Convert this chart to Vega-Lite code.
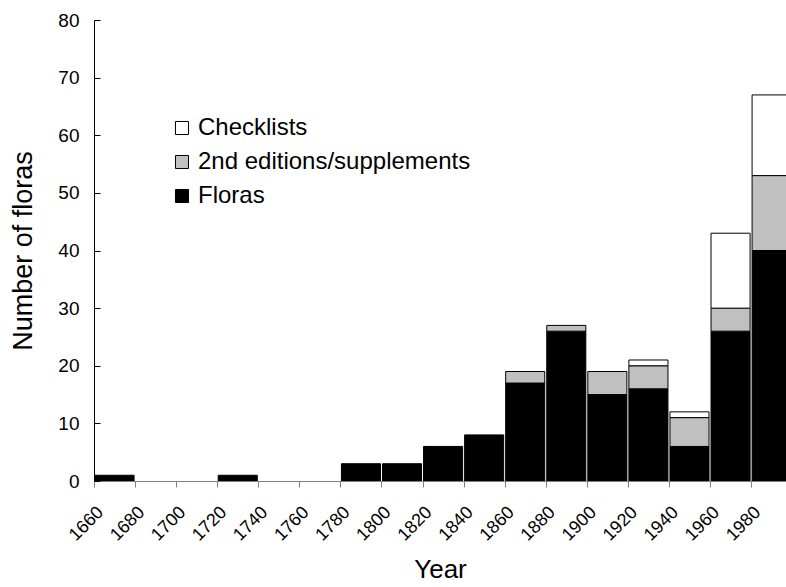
{
  "$schema": "https://vega.github.io/schema/vega-lite/v6.json",
  "width": 692,
  "height": 461,
  "autosize": {"type": "none"},
  "padding": {"left": 94, "top": 20, "right": 0, "bottom": 106},
  "background": "white",
  "config": {
    "view": {"stroke": null},
    "font": "Liberation Sans",
    "axis": {"grid": false, "labelFont": "Liberation Sans", "titleFont": "Liberation Sans", "labelColor": "black", "titleColor": "black", "titleFontWeight": "normal"}
  },
  "data": {
    "values": [
      {"start": 1660, "end": 1680, "type": "Floras", "count": 1, "ord": 1},
      {"start": 1720, "end": 1740, "type": "Floras", "count": 1, "ord": 1},
      {"start": 1780, "end": 1800, "type": "Floras", "count": 3, "ord": 1},
      {"start": 1800, "end": 1820, "type": "Floras", "count": 3, "ord": 1},
      {"start": 1820, "end": 1840, "type": "Floras", "count": 6, "ord": 1},
      {"start": 1840, "end": 1860, "type": "Floras", "count": 8, "ord": 1},
      {"start": 1860, "end": 1880, "type": "Floras", "count": 17, "ord": 1},
      {"start": 1860, "end": 1880, "type": "2nd editions/supplements", "count": 2, "ord": 2},
      {"start": 1880, "end": 1900, "type": "Floras", "count": 26, "ord": 1},
      {"start": 1880, "end": 1900, "type": "2nd editions/supplements", "count": 1, "ord": 2},
      {"start": 1900, "end": 1920, "type": "Floras", "count": 15, "ord": 1},
      {"start": 1900, "end": 1920, "type": "2nd editions/supplements", "count": 4, "ord": 2},
      {"start": 1920, "end": 1940, "type": "Floras", "count": 16, "ord": 1},
      {"start": 1920, "end": 1940, "type": "2nd editions/supplements", "count": 4, "ord": 2},
      {"start": 1920, "end": 1940, "type": "Checklists", "count": 1, "ord": 3},
      {"start": 1940, "end": 1960, "type": "Floras", "count": 6, "ord": 1},
      {"start": 1940, "end": 1960, "type": "2nd editions/supplements", "count": 5, "ord": 2},
      {"start": 1940, "end": 1960, "type": "Checklists", "count": 1, "ord": 3},
      {"start": 1960, "end": 1980, "type": "Floras", "count": 26, "ord": 1},
      {"start": 1960, "end": 1980, "type": "2nd editions/supplements", "count": 4, "ord": 2},
      {"start": 1960, "end": 1980, "type": "Checklists", "count": 13, "ord": 3},
      {"start": 1980, "end": 2000, "type": "Floras", "count": 40, "ord": 1},
      {"start": 1980, "end": 2000, "type": "2nd editions/supplements", "count": 13, "ord": 2},
      {"start": 1980, "end": 2000, "type": "Checklists", "count": 14, "ord": 3}
    ]
  },
  "transform": [
    {"stack": "count", "groupby": ["start"], "sort": [{"field": "ord", "order": "ascending"}], "as": ["y0", "y1"]}
  ],
  "mark": {"type": "bar", "stroke": "black", "strokeWidth": 1, "clip": true, "xOffset": 1, "x2Offset": -1},
  "encoding": {
    "x": {
      "field": "start", "type": "quantitative",
      "scale": {"domain": [1660, 1997], "nice": false, "zero": false},
      "axis": {"title": "Year", "values": [1660,1680,1700,1720,1740,1760,1780,1800,1820,1840,1860,1880,1900,1920,1940,1960,1980], "format": "d", "labelAngle": -45, "labelOverlap": false, "labelFontSize": 18, "labelDx": 8, "titleFontSize": 26, "titlePadding": 12, "tickSize": 6, "domainColor": "#808080", "tickColor": "#808080", "labelPadding": 16}
    },
    "x2": {"field": "end"},
    "y": {
      "field": "y1", "type": "quantitative",
      "scale": {"domain": [0, 80], "nice": false},
      "axis": {"title": "Number of floras", "values": [0,10,20,30,40,50,60,70,80], "labelFontSize": 19, "titleFontSize": 27, "titlePadding": 20, "tickSize": -6, "domainColor": "black", "tickColor": "black", "labelPadding": 21}
    },
    "y2": {"field": "y0"},
    "color": {
      "field": "type", "type": "nominal",
      "scale": {"domain": ["Checklists", "2nd editions/supplements", "Floras"], "range": ["white", "#c0c0c0", "black"]},
      "legend": {"title": null, "orient": "none", "legendX": 76, "legendY": 96, "symbolType": "square", "symbolSize": 170, "symbolStrokeColor": "black", "symbolStrokeWidth": 1, "labelFontSize": 24, "labelColor": "black", "labelLimit": 0, "rowPadding": 10, "labelOffset": 4}
    }
  }
}
